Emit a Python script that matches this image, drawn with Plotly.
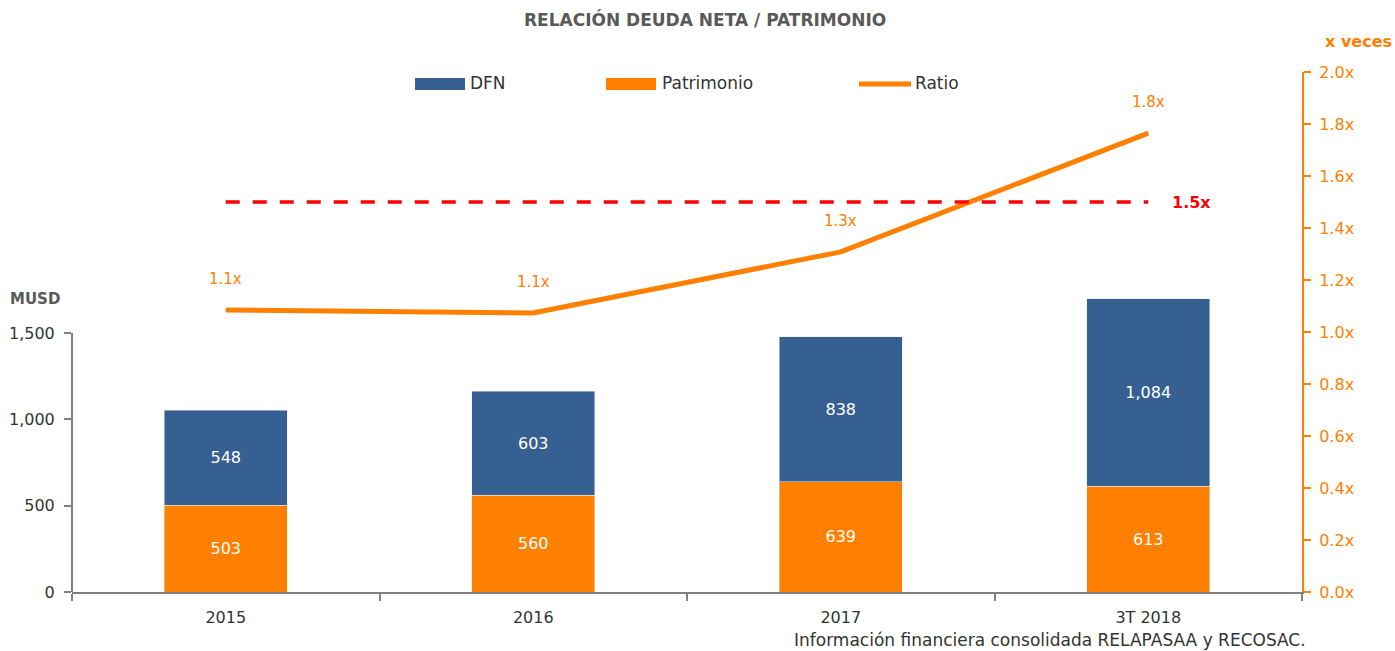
import plotly.graph_objects as go

categories = ["2015", "2016", "2017", "3T 2018"]
dfn = [548, 603, 838, 1084]
patrimonio = [503, 560, 639, 613]
ratio = [1.085, 1.073, 1.308, 1.765]
ratio_labels = ["1.1x", "1.1x", "1.3x", "1.8x"]
left_ticks = [0, 500, 1000, 1500]
right_ticks = [0.0, 0.2, 0.4, 0.6, 0.8, 1.0, 1.2, 1.4, 1.6, 1.8, 2.0]
limit_value = 1.5

BLUE = "#376092"
ORANGE = "#FF8000"
GRAY = "#808080"
TEXT = "#333333"
FONT = "DejaVu Sans"

W, H = 1395, 651
L, R, T, B = 72, 93, 72, 59
PW, PH = W - L - R, H - T - B


def px(x):
    return (x - L) / PW


def py(y):
    return (H - B - y) / PH


fig = go.Figure()

fig.add_trace(go.Bar(
    x=categories, y=patrimonio, name="Patrimonio", marker_color=ORANGE,
    text=[f"{v:,}" for v in patrimonio], textposition="inside", insidetextanchor="middle",
    textfont=dict(color="white", size=16, family=FONT), yaxis="y",
))
fig.add_trace(go.Bar(
    x=categories, y=dfn, name="DFN", marker_color=BLUE,
    text=[f"{v:,}" for v in dfn], textposition="inside", insidetextanchor="middle",
    textfont=dict(color="white", size=16, family=FONT), yaxis="y",
))
fig.add_trace(go.Scatter(
    x=categories, y=ratio, name="Ratio", mode="lines",
    line=dict(color=ORANGE, width=5), yaxis="y2",
))

for i, (r, lab) in enumerate(zip(ratio, ratio_labels)):
    fig.add_annotation(x=i, y=r, xref="x", yref="y2", text=lab, showarrow=False,
                       xanchor="center", yanchor="middle", yshift=31,
                       font=dict(color=ORANGE, size=15, family=FONT))

# limit dashed line
fig.add_shape(type="line", xref="x", yref="y2", x0=0, x1=3, y0=limit_value, y1=limit_value,
              line=dict(color="#FF0000", width=3.5, dash="14px,13px"))
fig.add_annotation(x=3, y=limit_value, xref="x", yref="y2", text="<b>1.5x</b>", showarrow=False,
                   xanchor="left", yanchor="middle", xshift=22,
                   font=dict(color="#FF0000", size=16, family=FONT))

# left axis line only up to 1500
fig.add_shape(type="line", xref="paper", yref="y", x0=0, x1=0, y0=0, y1=left_ticks[-1],
              line=dict(color=GRAY, width=2))

# custom legend
fig.add_shape(type="rect", xref="paper", yref="paper", x0=px(415), x1=px(465),
              y0=py(90), y1=py(78), fillcolor=BLUE, line=dict(width=0))
fig.add_annotation(xref="paper", yref="paper", x=px(468), y=py(83), text="DFN",
                   showarrow=False, xanchor="left", yanchor="middle",
                   font=dict(color=TEXT, size=17, family=FONT))
fig.add_shape(type="rect", xref="paper", yref="paper", x0=px(606), x1=px(656),
              y0=py(90), y1=py(78), fillcolor=ORANGE, line=dict(width=0))
fig.add_annotation(xref="paper", yref="paper", x=px(660), y=py(83), text="Patrimonio",
                   showarrow=False, xanchor="left", yanchor="middle",
                   font=dict(color=TEXT, size=17, family=FONT))
fig.add_shape(type="line", xref="paper", yref="paper", x0=px(859), x1=px(911),
              y0=py(84), y1=py(84), line=dict(color=ORANGE, width=5))
fig.add_annotation(xref="paper", yref="paper", x=px(913), y=py(83), text="Ratio",
                   showarrow=False, xanchor="left", yanchor="middle",
                   font=dict(color=TEXT, size=17, family=FONT))

# titles
fig.add_annotation(xref="paper", yref="paper", x=px(705), y=py(20),
                   text="<b>RELACIÓN DEUDA NETA / PATRIMONIO</b>", showarrow=False,
                   xanchor="center", yanchor="middle",
                   font=dict(color="#595959", size=17, family=FONT))
fig.add_annotation(xref="paper", yref="paper", x=px(8), y=py(299),
                   text="<b>MUSD</b>", showarrow=False, xanchor="left", yanchor="middle",
                   font=dict(color="#595959", size=15, family=FONT))
fig.add_annotation(xref="paper", yref="paper", x=px(1394), y=py(42),
                   text="<b>x veces</b>", showarrow=False, xanchor="right", yanchor="middle",
                   font=dict(color=ORANGE, size=16, family=FONT))
fig.add_annotation(xref="paper", yref="paper", x=px(1308), y=py(640),
                   text="Información financiera consolidada RELAPASAA y RECOSAC.", showarrow=False,
                   xanchor="right", yanchor="middle", font=dict(color=TEXT, size=17, family=FONT))

fig.update_layout(
    width=W, height=H,
    margin=dict(l=L, r=R, t=T, b=B, autoexpand=False),
    barmode="stack", bargap=0.6,
    showlegend=False,
    plot_bgcolor="white", paper_bgcolor="white",
    font=dict(family=FONT, color=TEXT, size=16),
    xaxis=dict(
        type="category", range=[-0.5, 3.5], showline=True, linecolor=GRAY, linewidth=2,
        ticks="outside", tickson="boundaries", ticklen=7, tickcolor=GRAY, tickwidth=2,
        showgrid=False, tickfont=dict(color=TEXT, size=16, family=FONT),
        ticklabelstandoff=10, automargin=False,
    ),
    yaxis=dict(
        range=[0, 3011], tickvals=left_ticks, ticktext=[f"{v:,}" for v in left_ticks],
        showline=False, ticks="outside", ticklen=7, tickcolor=GRAY, tickwidth=2,
        showgrid=False, zeroline=False, tickfont=dict(color=TEXT, size=16, family=FONT),
        ticklabelstandoff=6, automargin=False,
    ),
    yaxis2=dict(
        range=[0, 2.0], overlaying="y", side="right", tickvals=right_ticks,
        ticktext=[f"{v:.1f}x" for v in right_ticks], showline=True, linecolor=ORANGE,
        linewidth=2, ticks="outside", ticklen=7, tickcolor=ORANGE, tickwidth=2,
        showgrid=False, zeroline=False, tickfont=dict(color=ORANGE, size=16, family=FONT),
        ticklabelstandoff=5, automargin=False,
    ),
)

fig.write_html("out.html", config={"displayModeBar": False},
               post_script="document.body.style.margin='0px';")
